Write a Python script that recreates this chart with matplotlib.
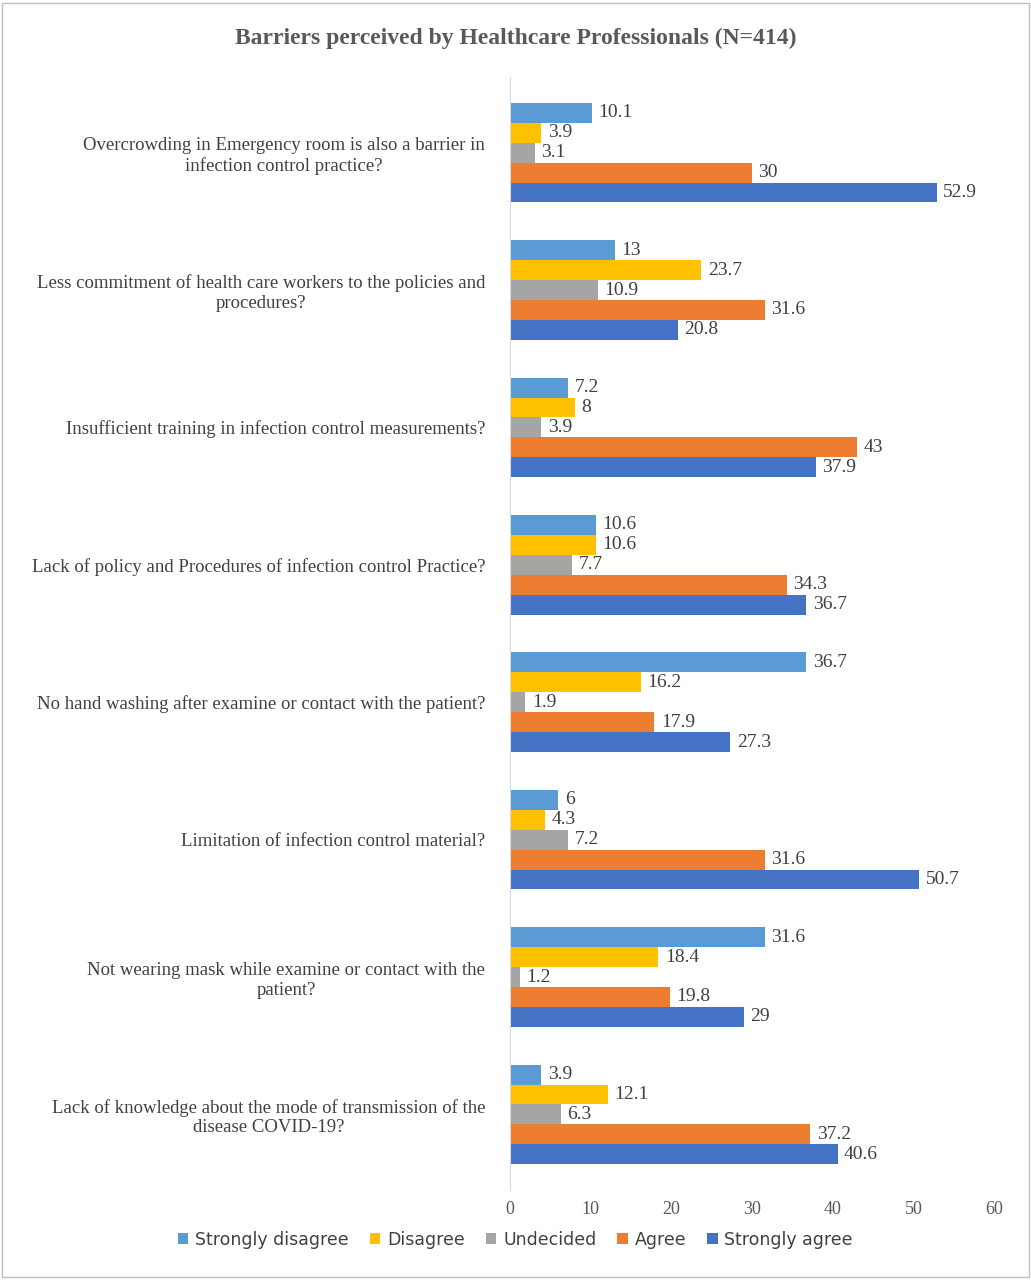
import matplotlib.pyplot as plt
import numpy as np

plt.rcParams['font.family'] = ['Liberation Serif', 'DejaVu Serif']

questions = [
    "Overcrowding in Emergency room is also a barrier in\ninfection control practice?",
    "Less commitment of health care workers to the policies and\nprocedures?",
    "Insufficient training in infection control measurements?",
    "Lack of policy and Procedures of infection control Practice?",
    "No hand washing after examine or contact with the patient?",
    "Limitation of infection control material?",
    "Not wearing mask while examine or contact with the\npatient?",
    "Lack of knowledge about the mode of transmission of the\ndisease COVID-19?",
]
strongly_disagree = [10.1, 13, 7.2, 10.6, 36.7, 6, 31.6, 3.9]
disagree = [3.9, 23.7, 8, 10.6, 16.2, 4.3, 18.4, 12.1]
undecided = [3.1, 10.9, 3.9, 7.7, 1.9, 7.2, 1.2, 6.3]
agree = [30, 31.6, 43, 34.3, 17.9, 31.6, 19.8, 37.2]
strongly_agree = [52.9, 20.8, 37.9, 36.7, 27.3, 50.7, 29, 40.6]

series = [("Strongly disagree", strongly_disagree, "#5B9BD5"),
          ("Disagree", disagree, "#FFC000"),
          ("Undecided", undecided, "#A5A5A5"),
          ("Agree", agree, "#ED7D31"),
          ("Strongly agree", strongly_agree, "#4472C4")]

fig = plt.figure(figsize=(10.31, 12.8), dpi=100)
ax = fig.add_axes([0.4947, 0.0703, 0.4695, 0.8695])

y = np.arange(len(questions))
h = 0.145
for i, (name, vals, col) in enumerate(series):
    pos = y + (i - 2) * h
    ax.barh(pos, vals, height=h, color=col, label=name)
    for p, v in zip(pos, vals):
        ax.text(v + 0.8, p, f"{v:g}", va='center', ha='left', fontsize=14, color='#404040')

ax.set_ylim(len(questions) - 0.5 + 0.05, -0.5 - 0.05)
ax.set_xlim(0, 60)
ax.set_xticks(range(0, 61, 10))
ax.set_yticks(y)
ax.set_yticklabels(questions, fontsize=13.5, color='#404040', multialignment='center')
ax.tick_params(axis='y', length=0, pad=18)
ax.tick_params(axis='x', length=0, labelsize=13, colors='#595959', pad=8)
for s in ['top', 'right', 'bottom']:
    ax.spines[s].set_visible(False)
ax.spines['left'].set_color('#D9D9D9')

fig.suptitle("Barriers perceived by Healthcare Professionals (N=414)", y=0.978,
             fontsize=17, fontweight='bold', color='#595959')
fig.legend(loc='lower center', ncol=5, bbox_to_anchor=(0.5, 0.012), frameon=False,
           fontsize=13, handlelength=0.6, handleheight=0.6, columnspacing=1.2,
           handletextpad=0.4, labelcolor='#404040', prop={'family': 'DejaVu Sans', 'size': 12.5})
fig.patches.append(plt.Rectangle((0.002, 0.002), 0.996, 0.996, transform=fig.transFigure,
                                 fill=False, ec='#BFBFBF', lw=1))
fig.savefig('out.png', dpi=100)
